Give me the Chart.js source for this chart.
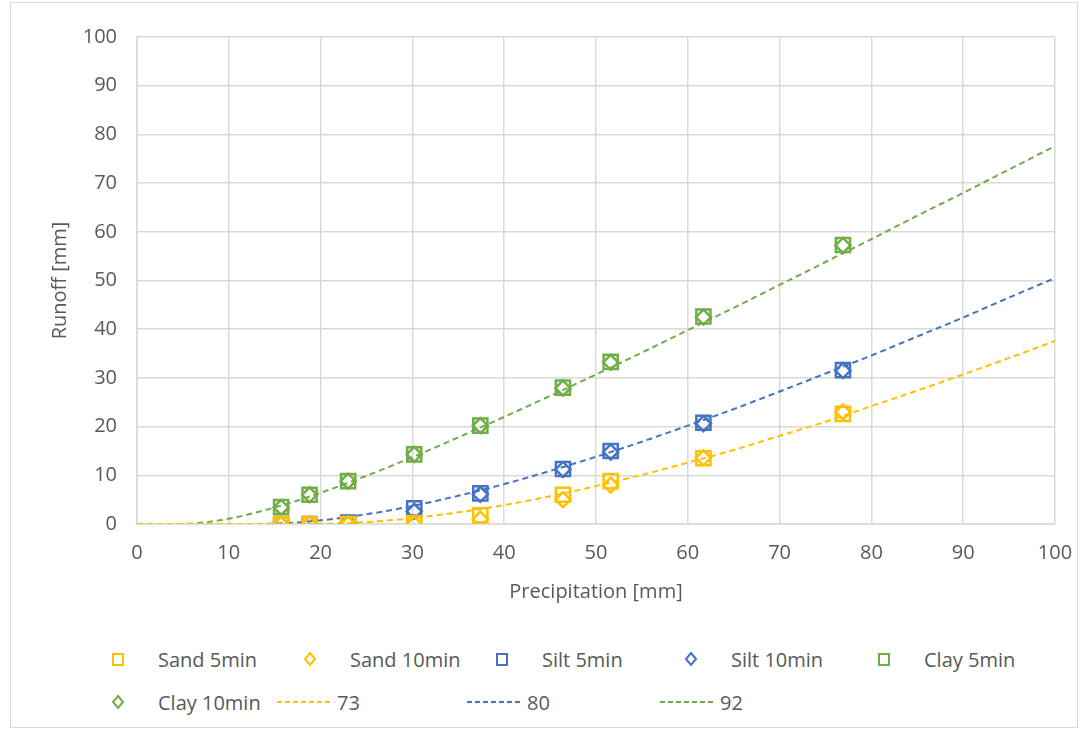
<!DOCTYPE html>
<html>
<head>
<meta charset="utf-8">
<script src="https://cdn.jsdelivr.net/npm/chart.js@4/dist/chart.umd.min.js"></script>
<style>
    body { margin: 0; background: #fff; font-family: 'Open Sans', sans-serif; }
    #frame { position: absolute; left: 10px; top: 2px; width: 1066px; height: 724px; border: 1px solid #d9d9d9; }
    #wrap { position: relative; width: 1066px; height: 620px; }
    .lg { position: absolute; display: flex; align-items: center; font-size: 20px; color: #595959; white-space: nowrap; }
</style>
</head>
<body>
<div id="frame">
    <div id="wrap"><canvas id="runoffChart"></canvas></div>
    <div id="legend"></div>
</div>
<script>
// measured points
const precip = [15.7, 18.8, 23.0, 30.2, 37.4, 46.4, 51.6, 61.7, 76.9];
const sand5 = [0, 0, 0, 0.2, 1.8, 6.0, 8.8, 13.5, 22.6];
const sand10 = [0, 0, 0, 0, 1.0, 5.0, 8.0, 13.6, 23.0];
const silt5 = [0, 0, 0.3, 3.2, 6.3, 11.3, 15.0, 20.8, 31.6];
const silt10 = [0, 0, 0.2, 2.6, 6.1, 11.2, 14.8, 20.6, 31.5];
const clay5 = [3.5, 6.0, 8.8, 14.3, 20.2, 28.0, 33.3, 42.6, 57.3];
const clay10 = [3.4, 6.0, 8.8, 14.3, 20.2, 27.9, 33.2, 42.5, 57.2];

// curve values
const curveP = [0, 5, 10, 15, 20, 25, 30, 35, 40, 45, 50, 55, 60, 65, 70, 75, 80, 85, 90, 95, 100];
const cn73 = [0, 0, 0, 0, 0.02, 0.4, 1.2, 2.4, 3.9, 5.7, 7.8, 10.1, 12.6, 15.2, 18.1, 21.0, 24.2, 27.4, 30.7, 34.1, 37.6];
const cn80 = [0, 0, 0, 0.08, 0.75, 2.0, 3.7, 5.8, 8.2, 10.9, 13.8, 16.9, 20.2, 23.6, 27.2, 30.9, 34.6, 38.5, 42.4, 46.5, 50.5];
const cn92 = [0, 0.02, 1.1, 3.4, 6.4, 9.9, 13.7, 17.8, 22.0, 26.3, 30.7, 35.2, 39.8, 44.4, 49.1, 53.8, 58.5, 63.3, 68.0, 72.8, 77.6];

const yellow = '#FFC000';
const blue = '#4472C4';
const green = '#70AD47';
const textColor = '#595959';
const gridColor = '#d9d9d9';

function pts(xs, ys) {
    return xs.map((x, i) => ({ x: x, y: ys[i] }));
}

function markers(label, ys, color, style) {
    return {
        label: label,
        data: pts(precip, ys),
        borderColor: color,
        backgroundColor: 'transparent',
        pointStyle: style,
        pointRadius: style === 'rect' ? 10 : 7.5,
        pointBorderWidth: 2.5,
        showLine: false
    };
}

function curve(label, ys, color) {
    return {
        label: label,
        data: pts(curveP, ys),
        borderColor: color,
        backgroundColor: color,
        borderWidth: 2,
        borderDash: [6, 4],
        pointRadius: 0,
        showLine: true,
        cubicInterpolationMode: 'monotone'
    };
}

const ctx = document.getElementById('runoffChart').getContext('2d');
const chart = new Chart(ctx, {
    type: 'scatter',
    data: {
        datasets: [
            markers('Sand 5min', sand5, yellow, 'rect'),
            markers('Sand 10min', sand10, yellow, 'rectRot'),
            markers('Silt 5min', silt5, blue, 'rect'),
            markers('Silt 10min', silt10, blue, 'rectRot'),
            markers('Clay 5min', clay5, green, 'rect'),
            markers('Clay 10min', clay10, green, 'rectRot'),
            curve('73', cn73, yellow),
            curve('80', cn80, blue),
            curve('92', cn92, green)
        ]
    },
    options: {
        responsive: true,
        maintainAspectRatio: false,
        animation: false,
        layout: {
            padding: { top: 34, right: 22, bottom: 19, left: 0 }
        },
        plugins: {
            legend: { display: false },
            tooltip: { enabled: false }
        },
        scales: {
            x: {
                min: 0,
                max: 100,
                afterFit: s => {
                    s.height = 80;
                    s.paddingRight = 0;
                    s.paddingLeft = 0;
                },
                ticks: {
                    stepSize: 10,
                    padding: 17,
                    color: textColor,
                    font: { family: 'Open Sans', size: 20 }
                },
                grid: { color: gridColor, lineWidth: 1.5, drawTicks: false, tickLength: 0 },
                border: { color: gridColor, width: 1.5 },
                title: {
                    display: true,
                    text: 'Precipitation [mm]',
                    color: textColor,
                    font: { family: 'Open Sans', size: 20 },
                    padding: { top: 0, bottom: 0 }
                }
            },
            y: {
                min: 0,
                max: 100,
                afterFit: s => { s.width = 126; },
                ticks: {
                    stepSize: 10,
                    padding: 20,
                    color: textColor,
                    font: { family: 'Open Sans', size: 20 }
                },
                grid: { color: gridColor, lineWidth: 1.5, drawTicks: false, tickLength: 0 },
                border: { color: gridColor, width: 1.5 },
                title: {
                    display: true,
                    text: 'Runoff [mm]',
                    color: textColor,
                    font: { family: 'Open Sans', size: 20 },
                    padding: { top: 37, bottom: 0 }
                }
            }
        }
    }
});

// HTML legend laid out like the original (x of symbol start, y of row centre, in frame coords)
const legendSlots = [
    [100, 656], [292, 656], [484, 656], [673, 656], [866, 656],
    [100, 699], [266, 699], [456, 699], [649, 699]
];

function symbolSvg(ds) {
    if (ds.showLine) {
        return '<svg width="56" height="10"><line x1="0" y1="5" x2="56" y2="5" stroke="' + ds.borderColor +
            '" stroke-width="2" stroke-dasharray="5,3"/></svg>';
    }
    if (ds.pointStyle === 'rect') {
        return '<svg width="14" height="14"><rect x="2" y="2" width="10" height="11" fill="none" stroke="' +
            ds.borderColor + '" stroke-width="2"/></svg>';
    }
    return '<svg width="14" height="16"><polygon points="7,2 12,8 7,14 2,8" fill="none" stroke="' +
        ds.borderColor + '" stroke-width="2"/></svg>';
}

const legendEl = document.getElementById('legend');
chart.data.datasets.forEach((ds, i) => {
    const item = document.createElement('div');
    item.className = 'lg';
    const slot = legendSlots[i];
    item.style.left = slot[0] + 'px';
    item.style.top = (slot[1] - 14) + 'px';
    item.style.height = '28px';
    const gap = ds.showLine ? 4 : 33;
    item.innerHTML = symbolSvg(ds) + '<span style="margin-left:' + gap + 'px">' + ds.label + '</span>';
    legendEl.appendChild(item);
});
</script>
</body>
</html>
